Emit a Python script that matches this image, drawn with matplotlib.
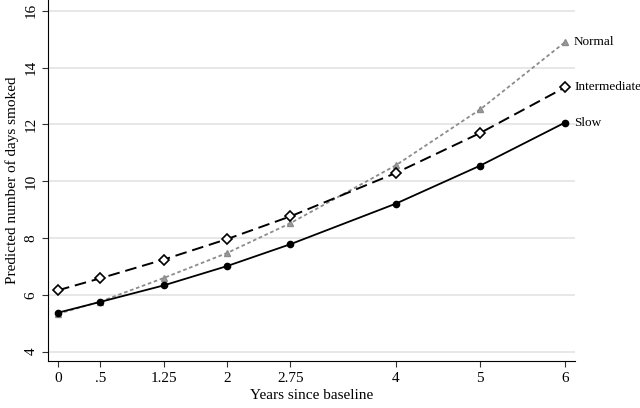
import matplotlib
matplotlib.use("Agg")
import matplotlib.pyplot as plt

years = [0, 0.5, 1.25, 2, 2.75, 4, 5, 6]
year_labels = ["0", ".5", "1.25", "2", "2.75", "4", "5", "6"]
slow = [5.37, 5.75, 6.33, 7.01, 7.78, 9.21, 10.55, 12.06]
intermediate = [6.16, 6.58, 7.24, 7.96, 8.76, 10.29, 11.70, 13.30]
normal = [5.33, 5.76, 6.59, 7.47, 8.52, 10.56, 12.53, 14.89]

plt.rcParams['font.family'] = ['Liberation Serif', 'DejaVu Serif']

fig = plt.figure(figsize=(6.4, 4.08), dpi=100)
ax = fig.add_axes([0.075, 0.1145, 0.823, 0.8855])

ax.plot(years, normal, linestyle=(0, (2, 1.5)), color='#8c8c8c', lw=1.3,
        marker='^', ms=5, mfc='#9a9a9a', mec='#8c8c8c', zorder=3)
ax.plot(years, intermediate, linestyle=(0, (6, 3)), color='black', lw=1.4,
        marker='D', ms=5.5, mfc='white', mec='black', mew=1.2, zorder=4)
ax.plot(years, slow, linestyle='-', color='black', lw=1.3,
        marker='o', ms=4.5, mfc='black', mec='black', zorder=5)

for series, name in [(normal, "Normal"), (intermediate, "Intermediate"), (slow, "Slow")]:
    ax.text(years[-1] + 0.11, series[-1], name, fontsize=9.5, va='center', ha='left', clip_on=False)

ax.set_xlim(-0.118, 6.118)
ax.set_ylim(3.66, 16.38)
ax.set_xticks(years)
ax.set_xticklabels(year_labels)
ax.set_yticks([4, 6, 8, 10, 12, 14, 16])
ax.tick_params(axis='both', direction='out', labelsize=11, length=4, color='#333333')
for lab in ax.get_yticklabels():
    lab.set_rotation(90)
    lab.set_va('center')
ax.yaxis.grid(True, color='#e3e3e3', lw=1.2)
ax.set_axisbelow(True)
ax.spines['top'].set_visible(False)
ax.spines['right'].set_visible(False)
ax.set_xlabel("Years since baseline", fontsize=11, labelpad=3)
ax.set_ylabel("Predicted number of days smoked", fontsize=11, labelpad=4)

fig.savefig("out.png", dpi=100)
